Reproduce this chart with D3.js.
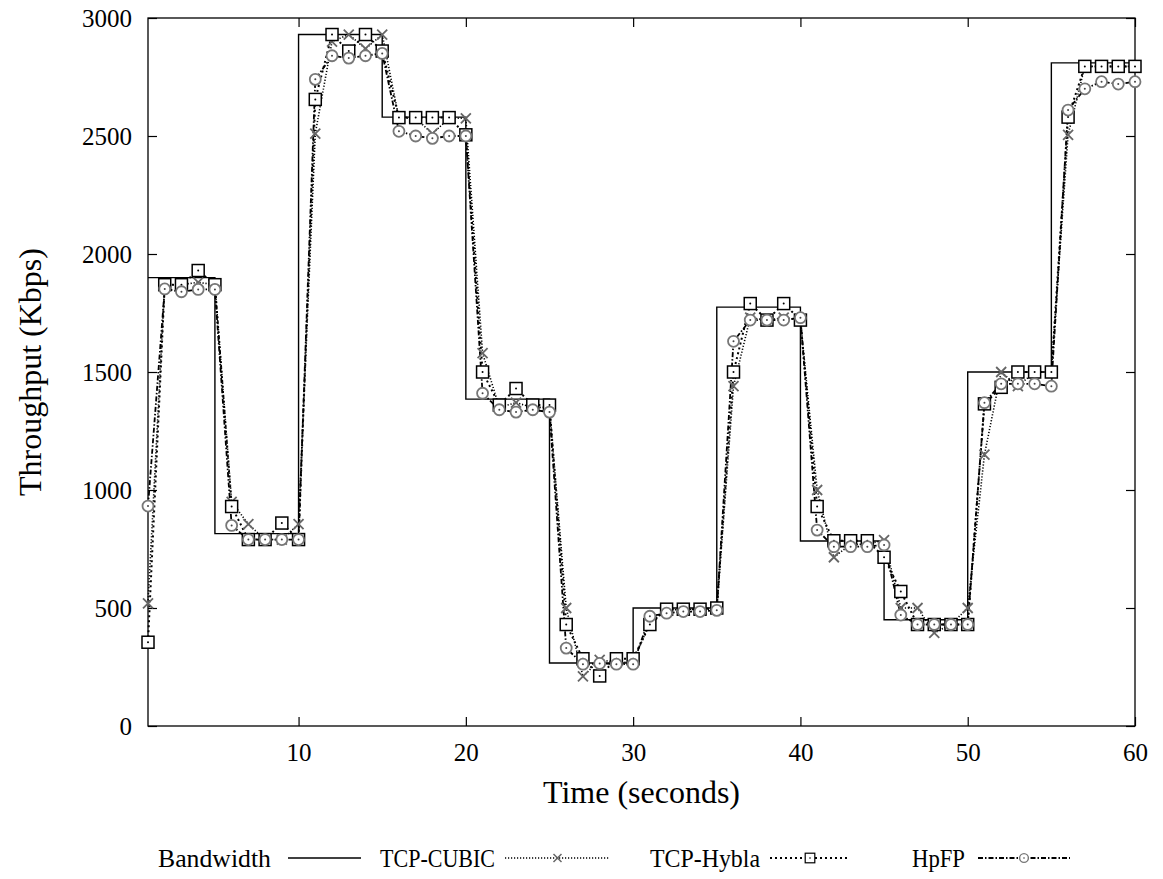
<!DOCTYPE html>
<html lang="en">
<head>
<meta charset="UTF-8">
<title>Throughput</title>
<script src="https://d3js.org/d3.v7.min.js"></script>
<style>
body { margin: 0; background: #fff; }
text { font-family: "Liberation Serif", "Times New Roman", serif; fill: #000; }
</style>
</head>
<body>
<div id="chart"></div>
<script>
// time axis: one sample per second
var seconds = d3.range(1, 61);
// bandwidth changes every 5 seconds
var bwEdges = [1, 5, 10, 15, 20, 25, 30, 35, 40, 45, 50, 55, 60];
var bwLevels = [1900, 815, 2930, 2580, 1385, 267, 500, 1775, 784, 450, 1500, 2810];

var cubic = [520, 1870, 1870, 1880, 1870, 950, 855, 790, 790, 855,
             2510, 2900, 2930, 2870, 2930, 2575, 2575, 2510, 2575, 2575,
             1580, 1350, 1370, 1350, 1350, 500, 210, 280, 270, 270,
             440, 490, 495, 495, 495, 1440, 1730, 1720, 1730, 1720,
             1000, 715, 770, 770, 788, 500, 500, 395, 430, 500,
             1150, 1500, 1440, 1500, 1500, 2505, 2795, 2795, 2795, 2795];
var hybla = [355, 1870, 1870, 1930, 1870, 930, 790, 790, 860, 790,
             2655, 2930, 2860, 2930, 2860, 2578, 2578, 2578, 2578, 2505,
             1500, 1360, 1430, 1360, 1360, 430, 285, 212, 285, 285,
             430, 495, 495, 495, 500, 1500, 1790, 1720, 1790, 1720,
             930, 785, 785, 785, 715, 570, 430, 430, 430, 430,
             1365, 1435, 1500, 1500, 1500, 2580, 2795, 2795, 2795, 2795];
var hpfp = [932, 1852, 1840, 1850, 1850, 850, 790, 790, 790, 790,
            2740, 2840, 2830, 2840, 2850, 2520, 2500, 2490, 2500, 2500,
            1410, 1340, 1330, 1340, 1330, 330, 262, 265, 262, 262,
            465, 478, 485, 485, 490, 1630, 1720, 1720, 1720, 1730,
            830, 760, 760, 760, 767, 470, 430, 430, 430, 430,
            1370, 1450, 1450, 1450, 1440, 2610, 2700, 2730, 2720, 2730];

var xTicks = [10, 20, 30, 40, 50, 60];
var yTicks = [0, 500, 1000, 1500, 2000, 2500, 3000];

var W = 1163, H = 879;
var margin = {top: 18, right: 28, bottom: 153, left: 148};
var width = W - margin.left - margin.right;
var height = H - margin.top - margin.bottom;

var svg = d3.select("#chart").append("svg")
    .attr("width", W)
    .attr("height", H);

var g = svg.append("g")
    .attr("transform", "translate(" + margin.left + "," + margin.top + ")");

var x = d3.scaleLinear().domain([1, 60]).range([0, width]);
var y = d3.scaleLinear().domain([0, 3000]).range([height, 0]);

// axes, ticks pointing inwards, mirrored on the opposite sides
var tickLen = 9;
var fmt = d3.format("d");
g.append("g")
    .attr("transform", "translate(0," + height + ")")
    .call(d3.axisBottom(x).tickValues(xTicks).tickFormat(fmt).tickSizeInner(-tickLen).tickSizeOuter(0).tickPadding(17))
    .call(function(a) { a.select(".domain").remove(); });
g.append("g")
    .call(d3.axisTop(x).tickValues(xTicks).tickSizeInner(-tickLen).tickSizeOuter(0).tickFormat(""))
    .call(function(a) { a.select(".domain").remove(); });
g.append("g")
    .call(d3.axisLeft(y).tickValues(yTicks).tickFormat(fmt).tickSizeInner(-tickLen).tickSizeOuter(0).tickPadding(16))
    .call(function(a) { a.select(".domain").remove(); });
g.append("g")
    .attr("transform", "translate(" + width + ",0)")
    .call(d3.axisRight(y).tickValues(yTicks).tickSizeInner(-tickLen).tickSizeOuter(0).tickFormat(""))
    .call(function(a) { a.select(".domain").remove(); });

g.selectAll(".tick line").attr("stroke", "#000").attr("stroke-width", 1.2);
g.selectAll(".tick text").style("font-size", "25px").style("font-family", "Liberation Serif");

g.append("rect")
    .attr("width", width).attr("height", height)
    .attr("fill", "none").attr("stroke", "#000").attr("stroke-width", 1.3);

// bandwidth step line
var bwPts = [];
bwLevels.forEach(function(v, i) {
  bwPts.push([bwEdges[i], v]);
  bwPts.push([bwEdges[i + 1], v]);
});
var line = d3.line().x(function(d) { return x(d[0]); }).y(function(d) { return y(d[1]); });
g.append("path")
    .attr("d", line(bwPts))
    .attr("fill", "none").attr("stroke", "#000").attr("stroke-width", 1.4);

var series = [
  {name: "TCP-CUBIC", values: cubic, dash: "1.2,1.8", width: 1.6, marker: "cross"},
  {name: "TCP-Hybla", values: hybla, dash: "2,3", width: 2, marker: "square"},
  {name: "HpFP", values: hpfp, dash: "5,2,1.5,2", width: 1.8, marker: "circle"}
];

function drawMarker(sel, type) {
  if (type === "cross") {
    sel.append("path").attr("d", "M-5,-5L5,5M-5,5L5,-5")
        .attr("stroke", "#666").attr("stroke-width", 1.8).attr("fill", "none");
  } else if (type === "square") {
    sel.append("rect").attr("x", -6).attr("y", -6).attr("width", 12).attr("height", 12)
        .attr("fill", "#fff").attr("stroke", "#000").attr("stroke-width", 1.5);
    sel.append("circle").attr("r", 1).attr("fill", "#000");
  } else {
    sel.append("circle").attr("r", 5.5)
        .attr("fill", "#fff").attr("stroke", "#777").attr("stroke-width", 1.8);
    sel.append("circle").attr("r", 1).attr("fill", "#444");
  }
}

var valLine = d3.line()
    .x(function(d, i) { return x(seconds[i]); })
    .y(function(d) { return y(d); });

series.forEach(function(s) {
  g.append("path")
      .attr("d", valLine(s.values))
      .attr("fill", "none").attr("stroke", "#000")
      .attr("stroke-width", s.width).attr("stroke-dasharray", s.dash);
});
series.forEach(function(s) {
  g.selectAll(".m-" + s.marker)
      .data(s.values)
      .enter().append("g")
      .attr("class", "m-" + s.marker)
      .attr("transform", function(d, i) { return "translate(" + x(seconds[i]) + "," + y(d) + ")"; })
      .each(function() { drawMarker(d3.select(this), s.marker); });
});

// axis titles
svg.append("text")
    .attr("transform", "translate(41," + (margin.top + height / 2) + ") rotate(-90)")
    .attr("text-anchor", "middle")
    .style("font-size", "32px")
    .text("Throughput (Kbps)");
svg.append("text")
    .attr("x", margin.left + width / 2)
    .attr("y", 803)
    .attr("text-anchor", "middle")
    .style("font-size", "32px")
    .text("Time (seconds)");

// legend (text widths fitted to the narrower serif of the original)
var legendY = 858;
var legendItems = [
  {name: "Bandwidth", tx: 158, tw: 113, lx0: 288, lx1: 361, dash: null, width: 1.4, marker: null},
  {name: "TCP-CUBIC", tx: 380, tw: 115, lx0: 505, lx1: 610, dash: series[0].dash, width: 1.6, marker: "cross"},
  {name: "TCP-Hybla", tx: 650, tw: 110, lx0: 770, lx1: 850, dash: series[1].dash, width: 2, marker: "square"},
  {name: "HpFP", tx: 912, tw: 53, lx0: 978, lx1: 1070, dash: series[2].dash, width: 1.8, marker: "circle"}
];
var leg = svg.selectAll(".legend").data(legendItems).enter().append("g").attr("class", "legend");
leg.append("text")
    .attr("x", function(d) { return d.tx; })
    .attr("y", legendY + 9)
    .attr("textLength", function(d) { return d.tw; })
    .attr("lengthAdjust", "spacingAndGlyphs")
    .style("font-size", "26px")
    .text(function(d) { return d.name; });
leg.append("line")
    .attr("x1", function(d) { return d.lx0; })
    .attr("x2", function(d) { return d.lx1; })
    .attr("y1", legendY).attr("y2", legendY)
    .attr("stroke", "#000")
    .attr("stroke-width", function(d) { return d.width; })
    .attr("stroke-dasharray", function(d) { return d.dash; });
leg.filter(function(d) { return d.marker; })
    .append("g")
    .attr("transform", function(d) { return "translate(" + ((d.lx0 + d.lx1) / 2) + "," + legendY + ") scale(0.8)"; })
    .each(function(d) { drawMarker(d3.select(this), d.marker); });
</script>
</body>
</html>
